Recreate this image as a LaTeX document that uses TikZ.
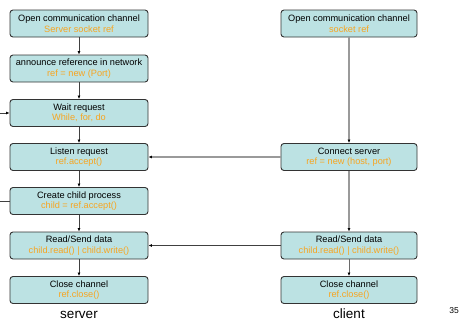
\documentclass[tikz,border=0pt]{standalone}
\usepackage{fontspec}
\setmainfont{Liberation Sans}
\usetikzlibrary{arrows.meta}
\definecolor{boxfill}{HTML}{BCE2E3}
\definecolor{boxline}{HTML}{333333}
\definecolor{codeor}{HTML}{F7A521}
\definecolor{lgray}{HTML}{9A9A9A}
\definecolor{mgray}{HTML}{6A6A6A}
\definecolor{dline}{HTML}{404040}
\tikzset{
  stepbox/.style={draw=boxline, line width=0.9pt, fill=boxfill, rounded corners=3pt,
    minimum height=27pt, inner sep=0pt, align=center, font=\fontsize{9.2}{10.5}\selectfont},
  lbox/.style={stepbox, minimum width=138pt},
  rbox/.style={stepbox, minimum width=136pt},
  conn/.style={draw=dline, line width=0.8pt, -{Latex[length=3.5pt,width=3pt,color=black]}},
  gconn/.style={draw=lgray, line width=1.2pt, -{Latex[length=3.5pt,width=3pt,color=black]}},
  mconn/.style={draw=mgray, line width=1pt, -{Latex[length=3.5pt,width=3pt,color=black]}},
  plain/.style={draw=dline, line width=0.8pt},
  caption/.style={font=\fontsize{13.5}{14}\selectfont, inner sep=0pt, anchor=base}
}
\begin{document}
\begin{tikzpicture}[x=1pt,y=-1pt]
\useasboundingbox (0,0) rectangle (463,322);
% left column
\node[lbox] (open)   at (79,23.5) {Open communication channel\\\textcolor{codeor}{Server socket ref}};
\node[lbox] (ann)    at (79,68.5) {announce reference in network\\\textcolor{codeor}{ref = new (Port)}};
\node[lbox] (wait)   at (79,113)  {Wait request\\\textcolor{codeor}{While, for, do}};
\node[lbox] (listen) at (79,157)  {Listen request\\\textcolor{codeor}{ref.accept()}};
\node[lbox] (child)  at (79,201)  {Create child process\\\textcolor{codeor}{child = ref.accept()}};
\node[lbox] (lread)  at (79,245.5){Read/Send data\\\textcolor{codeor}{child.read() | child.write()}};
\node[lbox] (lclose) at (79,290)  {Close channel\\\textcolor{codeor}{ref.close()}};
% right column
\node[rbox] (ropen)   at (349,23.5) {Open communication channel\\\textcolor{codeor}{socket ref}};
\node[rbox] (connect) at (349,157)  {Connect server\\\textcolor{codeor}{ref = new (host, port)}};
\node[rbox] (rread)   at (349,245.5){Read/Send data\\\textcolor{codeor}{child.read() | child.write()}};
\node[rbox] (rclose)  at (349,290)  {Close channel\\\textcolor{codeor}{ref.close()}};
% labels
\node[caption] (srv) at (79,318) {server};
\node[caption] (cli) at (349,318) {client};
\node[font=\fontsize{8.5}{10}\selectfont, inner sep=0pt, anchor=base] (pg) at (454,313) {35};
% left connectors
\draw[conn] (open) -- (ann);
\draw[conn] (ann) -- (wait);
\draw[conn] (wait) -- (listen);
\draw[conn] (listen) -- (child);
\draw[conn] (child) -- (lread);
\draw[conn] (lread) -- (lclose);
% loop back (cut at left edge)
\coordinate (loopin) at (0,113);
\coordinate (loopout) at (0,201);
\draw[conn] (loopin) -- (wait.west);
\draw[plain] (child.west) -- (loopout);
% right connectors
\draw[gconn] (ropen) -- (connect);
\draw[gconn] (connect) -- (rread);
\draw[mconn] (rread) -- (rclose);
% cross connectors
\draw[gconn] (connect.west) -- (listen.east);
\draw[conn] (rread.west) -- (lread.east);
\end{tikzpicture}
\end{document}
